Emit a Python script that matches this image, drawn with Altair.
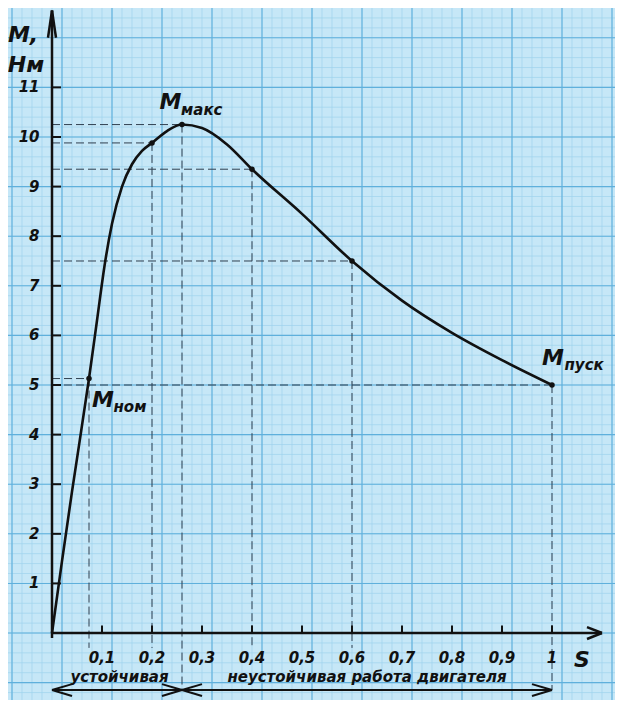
import numpy as np
import pandas as pd
import altair as alt

# torque curve M(s) of an induction motor
s_curve = [0, 0.02, 0.04, 0.074, 0.09, 0.105, 0.12, 0.14, 0.16, 0.18, 0.2, 0.23, 0.26,
           0.3, 0.35, 0.4, 0.5, 0.6, 0.7, 0.8, 0.9, 1.0]
m_curve = [0, 1.45, 2.85, 5.13, 6.3, 7.4, 8.25, 9.0, 9.45, 9.72, 9.88, 10.12, 10.25,
           10.18, 9.85, 9.35, 8.45, 7.5, 6.7, 6.05, 5.5, 5.0]

# marked points
s_pts = [0.074, 0.2, 0.26, 0.4, 0.6, 1.0]
m_pts = [5.13, 9.88, 10.25, 9.35, 7.5, 5.0]

x_ticks = [0.1, 0.2, 0.3, 0.4, 0.5, 0.6, 0.7, 0.8, 0.9, 1.0]
x_labels = ["0,1", "0,2", "0,3", "0,4", "0,5", "0,6", "0,7", "0,8", "0,9", "1"]
y_ticks = list(range(1, 12))

XD = [-0.088, 1.126]
YD = [-1.35, 12.6]
FONT = "DejaVu Sans"
INK = "#111111"

xs = alt.Scale(domain=XD, nice=False, zero=False)
ys = alt.Scale(domain=YD, nice=False, zero=False)
X = lambda f="x": alt.X(f"{f}:Q", scale=xs, axis=None)
Y = lambda f="y": alt.Y(f"{f}:Q", scale=ys, axis=None)

# graph paper
minor_x = np.arange(-0.08, 1.13, 0.02)
minor_y = np.arange(-1.2, 12.6, 0.2)
major_x = np.arange(-0.08, 1.13, 0.1)
major_y = np.arange(-1.0, 12.6, 1.0)

def vlines(vals, color, w):
    return alt.Chart(pd.DataFrame({"x": vals})).mark_rule(color=color, strokeWidth=w).encode(x=X())

def hlines(vals, color, w):
    return alt.Chart(pd.DataFrame({"y": vals})).mark_rule(color=color, strokeWidth=w).encode(y=Y())

paper = (vlines(minor_x, "#9fd2ec", 0.7) + hlines(minor_y, "#9fd2ec", 0.7)
         + vlines(major_x, "#5fb0dc", 1.1) + hlines(major_y, "#5fb0dc", 1.1))

def seg(rows, w=2.5, dash=None, color=INK):
    df = pd.DataFrame(rows, columns=["x", "y", "x2", "y2"])
    kw = {"strokeDash": dash} if dash else {}
    return alt.Chart(df).mark_rule(color=color, strokeWidth=w, **kw).encode(
        x=X(), y=Y(), x2="x2:Q", y2="y2:Q")

# axes with arrows
axes = seg([
    [0, 0, 1.1, 0], [1.07, 0.12, 1.1, 0], [1.07, -0.12, 1.1, 0],
    [0, -0.1, 0, 12.55], [-0.008, 12.0, 0, 12.55], [0.008, 12.0, 0, 12.55],
])
xt = seg([[t, 0, t, 0.15] for t in x_ticks], w=2)
yt = seg([[0, t, 0.018, t] for t in y_ticks], w=2)

# bottom range arrows
ranges = seg([
    [0, -1.15, 1.0, -1.15],
    [0, -1.15, 0.04, -1.03], [0, -1.15, 0.04, -1.27],
    [0.26, -1.15, 0.22, -1.03], [0.26, -1.15, 0.22, -1.27],
    [0.26, -1.15, 0.3, -1.03], [0.26, -1.15, 0.3, -1.27],
    [1.0, -1.15, 0.96, -1.03], [1.0, -1.15, 0.96, -1.27],
], w=2)

# dashed projections
proj_rows = []
for sv, mv in zip(s_pts, m_pts):
    proj_rows.append([0, mv, sv, mv])
    proj_rows.append([sv, mv, sv, -1.15 if sv in (0.26, 1.0) else -0.3])
proj = seg(proj_rows, w=1, dash=[8, 4], color="#2f3f4f")

curve = alt.Chart(pd.DataFrame({"x": s_curve, "y": m_curve})).mark_line(
    color=INK, strokeWidth=2.6, interpolate="monotone").encode(x=X(), y=Y())
pts = alt.Chart(pd.DataFrame({"x": s_pts, "y": m_pts})).mark_circle(
    color=INK, size=30, opacity=1).encode(x=X(), y=Y())

def txt(rows, size, align="center", baseline="middle"):
    df = pd.DataFrame(rows, columns=["x", "y", "t"])
    return alt.Chart(df).mark_text(font=FONT, fontStyle="italic", fontSize=size, fontWeight=600,
                                   color=INK, align=align, baseline=baseline).encode(
        x=X(), y=Y(), text="t:N")

labels = (
    txt([[t, -0.5, l] for t, l in zip(x_ticks, x_labels)], 15)
    + txt([[-0.025, t, str(t)] for t in y_ticks], 15, align="right")
    + txt([[1.06, -0.55, "S"], [-0.058, 12.05, "M,"], [-0.052, 11.45, "Нм"]], 22)
    + txt([[0.135, -0.88, "устойчивая"], [0.63, -0.88, "неустойчивая работа двигателя"]], 15)
    + txt([[0.215, 10.7, "M"], [0.08, 4.7, "M"], [0.98, 5.55, "M"]], 22, align="left")
    + txt([[0.258, 10.55, "макс"], [0.123, 4.55, "ном"], [1.025, 5.4, "пуск"]], 15, align="left")
)

chart = alt.layer(paper, proj, axes, xt, yt, ranges, curve, pts, labels).properties(
    width=607, height=692, padding=0, autosize=alt.AutoSizeParams(type="none"),
    background="#c6e7f7",
).configure_view(stroke=None)

chart.save("out.html", embed_options={"renderer": "svg", "actions": False})
